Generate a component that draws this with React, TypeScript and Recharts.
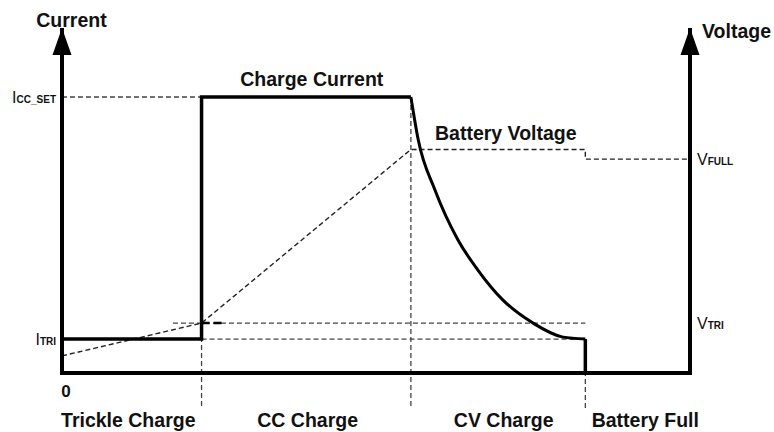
import React from "react";
import { ComposedChart, Line, XAxis, YAxis, ReferenceLine, ReferenceDot } from "recharts";

// Phase boundaries on the time axis and the labels underneath
const phaseEdges = [2, 5, 7.5];
const phaseLabels = ["Trickle Charge", "CC Charge", "CV Charge", "Battery Full"];
const phaseLabelAt = [0.95, 3.52, 6.33, 8.36];

// Reference levels (same relative scale on both axes)
const I_CC_SET = 100;
const I_TRI = 12.3;
const V_FULL = 77.5;
const V_TRI = 18.1;

// Charge current: step part, CV decay, cut-off
const stepT = [0, 2, 2, 5];
const stepI = [12.3, 12.3, 100, 100];
const decayT = [5, 5.106, 5.345, 5.675, 5.96, 6.32, 6.75, 7.18, 7.5];
const decayI = [100, 84.4, 66.3, 48.2, 37.3, 26.4, 18.1, 13.0, 12.3];
const cutT = [7.5, 7.5];
const cutI = [12.3, 0];

// Battery voltage
const voltT = [0, 2, 5, 7.5, 7.5, 9];
const voltV = [6.2, 18.1, 81, 81, 77.5, 77.5];

const zip = (ts: number[], vs: number[]) => ts.map((t, i) => ({ t, y: vs[i] }));

const FONT = "'Liberation Sans', Arial, sans-serif";
const INK = "#111";
const GUIDE = "#444";
const GUIDE_BOTTOM = -12.7; // dashed phase lines run below the time axis

const leftTicks: Record<number, [string, string]> = {
  [I_CC_SET]: ["I", "CC_SET"],
  [I_TRI]: ["I", "TRI"],
};
const rightTicks: Record<number, [string, string]> = {
  [V_FULL]: ["V", "FULL"],
  [V_TRI]: ["V", "TRI"],
};

const SubTick = ({ x, y, payload, map, anchor }: any) => {
  const parts = map[payload.value];
  if (!parts) return null;
  return (
    <text x={x} y={y + 6} textAnchor={anchor} fill={INK} fontFamily={FONT}>
      <tspan fontSize={16}>{parts[0]}</tspan>
      <tspan fontSize={10} fontWeight="bold">{parts[1]}</tspan>
    </text>
  );
};

const PhaseTick = ({ x, y, payload }: any) => {
  if (payload.value === 0) {
    return (
      <text x={x + 4} y={y + 24} textAnchor="middle" fill={INK} fontFamily={FONT} fontWeight="bold" fontSize={17}>
        0
      </text>
    );
  }
  const idx = phaseLabelAt.indexOf(payload.value);
  return (
    <text x={x} y={y + 54} textAnchor="middle" fill={INK} fontFamily={FONT} fontWeight="bold" fontSize={19.5}>
      {phaseLabels[idx]}
    </text>
  );
};

// Arrow head on top of a vertical axis plus its title
const AxisArrow = ({ viewBox, side, title }: any) => {
  const ax = side === "left" ? viewBox.x + viewBox.width : viewBox.x;
  const tip = viewBox.y;
  return (
    <g>
      <polygon points={`${ax},${tip} ${ax - 9.5},${tip + 27} ${ax + 9.5},${tip + 27}`} fill="#000" />
      <text
        x={side === "left" ? ax + 9.5 : ax + 12}
        y={side === "left" ? tip - 1 : tip + 10}
        textAnchor={side === "left" ? "middle" : "start"}
        fill={INK}
        fontFamily={FONT}
        fontWeight="bold"
        fontSize={19.5}
      >
        {title}
      </text>
    </g>
  );
};

const TextAbove = ({ viewBox, text, gap }: any) => (
  <text
    x={viewBox.x + viewBox.width / 2}
    y={viewBox.y - gap}
    textAnchor="middle"
    fill={INK}
    fontFamily={FONT}
    fontWeight="bold"
    fontSize={19.5}
  >
    {text}
  </text>
);

const dashed = { stroke: GUIDE, strokeWidth: 1.3, strokeDasharray: "5 3", ifOverflow: "visible" as const };

export default function App() {
  return (
    <div style={{ position: "absolute", left: 0, top: 0, background: "#fff" }}>
      <ComposedChart width={774} height={432} margin={{ top: 28, right: 0, bottom: 0, left: 0 }}>
        <XAxis
          dataKey="t"
          type="number"
          domain={[0, 9]}
          allowDataOverflow
          ticks={[0, ...phaseLabelAt]}
          interval={0}
          tick={<PhaseTick />}
          tickLine={false}
          tickSize={0}
          tickMargin={0}
          height={59}
          axisLine={{ stroke: "#000", strokeWidth: 4, strokeLinecap: "square" }}
        />
        <YAxis
          yAxisId="i"
          type="number"
          domain={[0, 125]}
          allowDataOverflow
          ticks={[I_TRI, I_CC_SET]}
          interval={0}
          width={62}
          tickLine={false}
          tickSize={0}
          tickMargin={6}
          tick={<SubTick map={leftTicks} anchor="end" />}
          axisLine={{ stroke: "#000", strokeWidth: 4 }}
          label={{ content: (p: any) => <AxisArrow {...p} side="left" title="Current" /> }}
        />
        <YAxis
          yAxisId="v"
          orientation="right"
          type="number"
          domain={[0, 125]}
          allowDataOverflow
          ticks={[V_TRI, V_FULL]}
          interval={0}
          width={84}
          tickLine={false}
          tickSize={0}
          tickMargin={7}
          tick={<SubTick map={rightTicks} anchor="start" />}
          axisLine={{ stroke: "#000", strokeWidth: 4 }}
          label={{ content: (p: any) => <AxisArrow {...p} side="right" title="Voltage" /> }}
        />

        {/* dashed guides */}
        <ReferenceLine yAxisId="i" segment={[{ x: 0, y: I_CC_SET }, { x: phaseEdges[0], y: I_CC_SET }]} {...dashed} />
        <ReferenceLine yAxisId="i" segment={[{ x: phaseEdges[0], y: I_TRI }, { x: phaseEdges[2], y: I_TRI }]} {...dashed} />
        <ReferenceLine yAxisId="v" segment={[{ x: 1.59, y: V_TRI }, { x: phaseEdges[2], y: V_TRI }]} {...dashed} />
        <ReferenceLine
          yAxisId="v"
          segment={[{ x: phaseEdges[0], y: V_TRI }, { x: 2.29, y: V_TRI }]}
          stroke="#000"
          strokeWidth={2.5}
          strokeDasharray="8 4"
          ifOverflow="visible"
        />
        <ReferenceLine yAxisId="i" segment={[{ x: phaseEdges[0], y: I_CC_SET }, { x: phaseEdges[0], y: GUIDE_BOTTOM }]} {...dashed} />
        <ReferenceLine yAxisId="i" segment={[{ x: phaseEdges[1], y: I_CC_SET }, { x: phaseEdges[1], y: GUIDE_BOTTOM }]} {...dashed} />
        <ReferenceLine yAxisId="i" segment={[{ x: phaseEdges[2], y: I_TRI }, { x: phaseEdges[2], y: GUIDE_BOTTOM }]} {...dashed} />

        {/* battery voltage */}
        <Line
          yAxisId="v"
          data={zip(voltT, voltV)}
          dataKey="y"
          type="linear"
          stroke="#222"
          strokeWidth={1.4}
          strokeDasharray="5 3"
          dot={false}
          activeDot={false}
          isAnimationActive={false}
        />

        {/* charge current */}
        <Line
          yAxisId="i"
          data={zip(stepT, stepI)}
          dataKey="y"
          type="linear"
          stroke="#000"
          strokeWidth={3.5}
          dot={false}
          activeDot={false}
          isAnimationActive={false}
        />
        <Line
          yAxisId="i"
          data={zip(decayT, decayI)}
          dataKey="y"
          type="monotone"
          stroke="#000"
          strokeWidth={3}
          dot={false}
          activeDot={false}
          isAnimationActive={false}
        />
        <Line
          yAxisId="i"
          data={zip(cutT, cutI)}
          dataKey="y"
          type="linear"
          stroke="#000"
          strokeWidth={3.5}
          dot={false}
          activeDot={false}
          isAnimationActive={false}
        />

        <ReferenceDot
          yAxisId="i"
          x={3.58}
          y={I_CC_SET}
          r={0}
          fill="none"
          stroke="none"
          label={{ content: (p: any) => <TextAbove {...p} text="Charge Current" gap={11} /> }}
        />
        <ReferenceDot
          yAxisId="v"
          x={6.36}
          y={81}
          r={0}
          fill="none"
          stroke="none"
          label={{ content: (p: any) => <TextAbove {...p} text="Battery Voltage" gap={9.5} /> }}
        />
      </ComposedChart>
    </div>
  );
}
